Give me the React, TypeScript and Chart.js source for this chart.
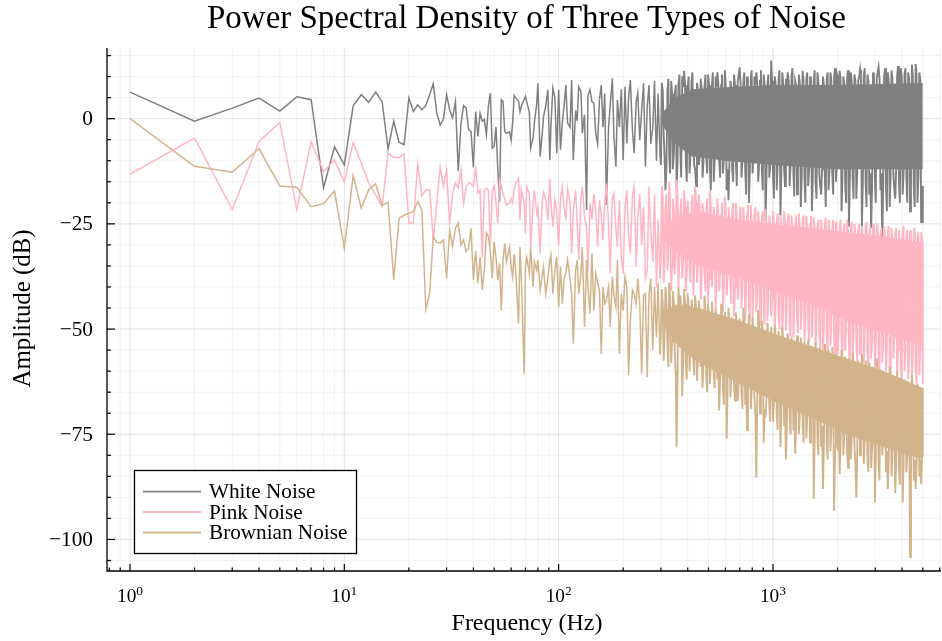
import React, { useEffect, useRef } from "react";
import { Chart, registerables } from "chart.js";

Chart.register(...registerables);

const W = 942;
const H = 641;
const FONT = "'Liberation Serif', 'DejaVu Serif', serif";

const TITLE = "Power Spectral Density of Three Types of Noise";
const X_LABEL = "Frequency (Hz)";
const Y_LABEL = "Amplitude (dB)";
const SERIES_NAMES = ["White Noise", "Pink Noise", "Brownian Noise"];
const SERIES_COLORS = ["#808080", "#FFB6C1", "#D2B48C"];

const X_MIN = 0.781;
const X_MAX = 6080;
const Y_MIN = -107.5;
const Y_MAX = 16.8;

const Y_MAJOR_TICKS = [-100, -75, -50, -25, 0];
const Y_TICK_LABELS = ["\u2212100", "\u221275", "\u221250", "\u221225", "0"];
const X_MAJOR_TICKS = [1, 10, 100, 1000];
const X_TICK_EXPONENTS = ["0", "1", "2", "3"];

// every bin from 1 to 50 Hz
const lowFreqs = Array.from({ length: 50 }, (_, i) => i + 1);
// bins sampled on a 2 % grid from 51 to 297 Hz
const midFreqs = Array.from({ length: 90 }, (_, i) => Math.round(50 * Math.pow(1.02, i + 1)));
// bins sampled on a 1 % grid from 300 to 5000 Hz
const denseFreqs = Array.from({ length: 284 }, (_, i) =>
  Math.min(5000, Math.round(297 * Math.pow(1.01, i + 1)))
);

const whiteLow = [
  6.3, -0.6, 2.5, 4.9, 1.8, 5.2, 4.5, -16.4, -6.7, -11.0,
  3.1, 5.7, 3.9, 6.3, 4.1, -7.2, -0.6, -5.6, -6.2, 4.9,
  1.7, 3.3, 2.1, 3.1, 5.7, 8.3, 1.3, -1.5, -0.1, 5.7,
  2.1, 0.2, 4.1, -12.5, -1.4, 3.1, 2.5, -2.6, -3.0, -11.6,
  1.7, -4.2, 1.3, -0.6, -0.2, -3.8, 2.9, 6.1, -7.0, -6.6,
];
const pinkLow = [
  -13.2, -4.6, -21.6, -5.4, -0.9, -21.6, -5.5, -12.6, -9.8, -15.1,
  -5.6, -10.6, -15.3, -18.1, -20.9, -8.2, -9.2, -9.2, -8.4, -24.8,
  -24.8, -10.8, -18.3, -16.9, -16.9, -28.8, -20.1, -11.5, -16.1, -12.1,
  -25.1, -17.7, -15.3, -16.4, -12.1, -20.1, -16.1, -15.3, -15.5, -16.1,
  -11.4, -17.7, -17.0, -33.0, -16.9, -16.5, -17.0, -30.0, -17.3, -16.0,
];
const brownLow = [
  0.0, -11.3, -12.7, -7.1, -16.0, -16.3, -20.9, -20.2, -17.2, -30.8,
  -13.5, -21.3, -16.9, -15.5, -20.6, -19.9, -38.3, -23.7, -22.9, -22.5,
  -22.1, -19.7, -21.7, -45.3, -41.5, -28.0, -29.4, -29.6, -28.8, -37.9,
  -26.4, -30.4, -26.0, -24.8, -30.0, -28.8, -31.6, -30.8, -26.0, -38.3,
  -31.4, -39.1, -32.8, -40.7, -35.9, -27.1, -28.0, -31.6, -37.9, -29.2,
];

const whiteMid = [
  -2, -12, -19.7, 4.5, 4.1, -3, -3.5, -3.1, -5.1, -1,
  5.5, 5.0, 4.2, 1.7, 3.0, 4.6, 5.3, 4.0, 1.5, -7.0,
  -4.5, -1, 3.5, 8.4, -9.0, -3, 0.5, 2.9, 6.9, -9.8,
  -2, 7.3, 5, -8.2, 6.9, -7.4, -1, 3, 8.0, -1,
  -2, 9.2, -9.8, 2, -0.5, 7.6, 6.5, -3.5, 1, -21.7,
  5.5, 6.9, 4, 3.7, -3.5, -6, 4.5, 8.0, -2, 6,
  -20.5, -1.9, 3, 9.6, -4, -11.4, 4.5, -2, 7, -9.8,
  7.6, -5.9, 5, 9.2, -3, -8.2, 4, 6.1, -5.1, 2,
  8.4, -11.4, 3, 8, -6, -2, 9, -10, 6, -8,
];
const pinkMid = [
  -20, -24.9, -14.6, -16, -17.8, -19, -20.5, -20.1, -19, -20,
  -17, -15.5, -14.2, -24.1, -17, -20, -27.3, -16.2, -17.8, -30.5,
  -20, -17, -22.5, -21, -32.1, -19, -17.5, -19.3, -24.1, -14.2,
  -20, -25.7, -19.3, -22, -30.1, -19, -16.2, -21, -24.1, -16.6,
  -20, -32.1, -22, -17, -25, -33.6, -19, -16.2, -23.3, -26,
  -36.4, -20.1, -24, -17.8, -22, -30.5, -19.3, -23, -28.9, -20,
  -15.4, -25, -36.8, -19, -17.8, -26, -30.5, -19.3, -33, -36.8,
  -21, -17, -28, -32.1, -18, -16.2, -35.2, -24, -17.8, -30,
  -20.9, -38, -36, -16.2, -27, -34, -18, -40, -24, -38,
];
const brownMid = [
  -33, -38.4, -34.4, -45.6, -33.6, -29.7, -34, -30.5, -35, -37.6,
  -32.1, -36, -48.7, -30.5, -38, -60.6, -35.2, -33, -36.8, -30.5,
  -40, -34, -36, -33.6, -40.8, -37, -35.2, -41.6, -38, -33.6,
  -32.4, -41.6, -36, -32.8, -44.8, -35.2, -44, -38, -36.8, -33.6,
  -38, -41.6, -53.5, -36, -33.6, -41.6, -37, -30.5, -49.5, -33.6,
  -40, -46.3, -32, -45.6, -36.8, -39, -40.8, -55.9, -40, -44,
  -43.2, -40, -49.5, -37.6, -42, -44.8, -33.6, -55.9, -41.6, -45.6,
  -37.6, -40, -61, -47.9, -40.8, -41.6, -44, -38, -44, -60.6,
  -42, -41.6, -61.4, -41.6, -38, -55, -40, -52, -39, -56,
];

const whiteDense = [
  -11, 8.5, 6.5, -4, -9, -17, -12, 7, 9.5, -9, -13, 9, 6, -12, -8, 5.5, 8, -16.3, -10, 8,
  10.5, -8, -14, 10, 7.5, 11.4, 8, -10, -15, 7, 10, -13, -9, 9, 11, -6, -11, -12, -16, 8.5,
  6.5, -11, -8.5, 9.5, 7, -14, -10, 7.5, 10.5, -9, -13, 10.5, 8, -12, -17, 8, 11, -15, -10, 10,
  7.5, 11, 8.5, -10, -14, 8, 10.5, -13, -9.5, 11.5, 8, -17, -12, -19.4, -11, 9, 7.5, -12, -15, 10.5,
  8, -11, -16, 9, 10.5, 12.2, 8.5, -14, -10, 8.5, 11, -12, -18, 10, 7.5, -20, -12, 9.5, 11.5, -13,
  -10, 10, 8, 11, 9, -15, -11, 9, 11.5, -12, -17, 10.5, 8, -24.2, -13, 8, 10.5, -14, -11, 13.8,
  9, -13, -19, 10, 8, -17, -11, 9, 11.5, -23, -13, 11, 8.5, -12, -16, 9.5, 8, 11, 9, -16,
  -11, 10, 12, -13, -18.5, 9, 8, -18, -12, 10.5, 8.5, -21, -14, 11.4, 9, -14, -20, 9.5, 11, -16,
  -12, 10, 8.5, -22, -14, 9, 11.5, -15, -19, 11, 9, -13, -16, -18, -12, 10, 8, -14, -21, 9.5,
  11, -17, -12, 11, 9, -13, -18, 10, 12, -15, -11, 9.5, 8.5, 11.4, 9.5, -22, -14, 10, 8.5, -16,
  -20, 9.5, 11.5, -25.6, -14, 11, 9, -14, -19, 10.5, 9, -19, -13, 9, 10, 11.7, 9.5, -26, -15, 10,
  12, -15, -21, 10.5, 9, -18, -13, -26, -16, 11, 9, -14, -20, 9.5, 11, 12.3, 9.5, -17, -13, -29.5,
  -15, 10, 12, -16, -22, 11, 9, -21, -14, 11.5, 9.5, -13, -17, -19, -12, 10, 12.5, -15, -20, 12,
  10, -18, -13, 10.5, 12, -14, -20, 11, 9.5, -22, -15, 12.8, 10, -16, -21, 13, 10.5, -20, -14, 11,
  9.5, -24.8, -16, -24.8,
];
const pinkDense = [
  -33, -16, -19, -39, -34, -21, -18, -36, -31, -15, -20, -41, -35, -19, -22, -37, -32, -14.5, -18, -40,
  -34, -22, -19, -38, -33, -17, -21, -41, -36, -19.5, -23, -35, -39, -21, -18, -42, -36, -16, -20, -39,
  -34, -18, -22, -43, -37, -20, -23, -37, -41, -22, -19, -44, -38, -17, -21, -40, -35, -21, -24, -45,
  -39, -19, -23, -41, -36, -23, -20, -46, -40, -18.5, -22, -42, -37, -21, -24, -39, -44, -22, -20, -47,
  -40, -20, -24, -43, -38, -23.5, -21, -45, -40, -21, -25, -48, -41, -22.5, -20.5, -44, -48, -20.5, -24, -47,
  -41, -23, -21, -46, -42, -22, -25, -49, -43, -24, -22, -45, -49, -21.5, -25, -48, -42, -23, -26, -47,
  -43, -22, -25, -50, -44, -24.5, -22.5, -46, -50, -23, -26, -51, -45, -22, -25, -50.4, -44, -24, -22.5, -48,
  -52, -23, -26, -52, -46, -25, -23, -47, -51, -22.5, -26, -50, -45, -24.5, -23, -53, -47, -23, -26.5, -49,
  -53, -25, -23, -52, -46, -23.5, -27, -54, -48, -26, -24, -50, -55, -24, -27, -55, -49, -25, -23.5, -51,
  -56, -24, -27, -54, -48, -26, -24, -52, -57, -24.5, -27.5, -56, -50, -25.5, -24, -53, -58, -27, -25, -55.1,
  -49, -24, -27.5, -55, -59, -26, -24.5, -57, -51, -25, -28, -53, -58, -27, -25, -56, -51, -25.5, -28.5, -58,
  -52, -26, -24.5, -55, -60, -27.5, -25.5, -57, -52, -25, -28.5, -59, -53, -26.5, -25, -56, -61, -28, -26, -58,
  -53, -25.5, -29, -60, -54, -27, -25.5, -59.1, -62, -26, -29, -57, -52, -28, -26, -61, -55, -26.5, -29.5, -58,
  -62.5, -27, -25.5, -60, -55, -28, -26.5, -62, -56, -26.5, -29.5, -61.8, -56, -27.5, -26, -59, -63, -28.5, -27, -61,
  -55, -27, -29, -63,
];
const brownDense = [
  -51, -40.5, -44, -57.5, -52, -40, -43, -54, -59, -39, -42.5, -58, -53, -41, -44, -55, -61, -78.1, -60, -40,
  -44, -42, -45.5, -66, -58, -40.5, -44, -58, -62, -41.5, -45, -60, -55, -43, -46, -57, -61, -42, -45, -62.3,
  -57, -43.2, -46, -59, -55, -64, -58, -42, -45.5, -61, -65, -44, -47, -63, -58, -43.5, -46.5, -60, -64, -45,
  -48, -62, -57, -69.4, -61, -44, -47.5, -64, -68, -46, -49, -76, -64, -45, -48.5, -66.2, -61, -47.2, -50, -63,
  -67, -46, -49.5, -67, -62, -47.5, -50.5, -65, -69, -45, -48.5, -68, -63, -74, -66, -46.5, -50, -69, -64, -47,
  -50.5, -66, -71, -85.3, -68, -45.5, -49, -70, -65, -48, -51, -77, -69, -71, -66, -48.5, -52, -68, -72, -49.6,
  -53, -72, -67, -49, -52.5, -70, -74, -50.5, -54, -78, -70, -49.6, -53, -73, -68, -81, -72, -51, -54.5, -71,
  -75, -52, -55, -74, -69, -79.6, -72, -51.5, -55, -75, -70, -52, -55.5, -73, -77, -53, -56, -76, -71, -52.5,
  -56, -77, -72, -54, -57, -90.4, -76, -53, -56.5, -75.8, -80, -54.5, -58, -78, -73, -88, -77, -53.5, -57, -77,
  -81, -55, -58, -79, -74, -54.3, -57.5, -93.2, -78, -56, -59, -78.9, -74, -84.5, -77, -55, -58.5, -80, -75, -56.5,
  -60, -79, -83, -57, -60, -81, -76, -55.5, -59, -78, -82, -90, -79, -57.5, -61, -80, -75, -56, -59.5, -82,
  -77, -57.5, -61, -80.5, -84, -58, -61.5, -83, -78, -59, -62, -91.2, -80, -57, -60.5, -82, -86, -59.5, -62.5, -80,
  -76, -60, -63, -84, -79, -88, -81, -59, -62.5, -85, -80, -61, -64, -89, -82, -60, -63.5, -83, -87, -61.5,
  -64.5, -91.2, -82, -62, -65, -84, -80, -62.5, -66, -104.2, -84, -61, -64.5, -86, -81, -88, -83, -63, -66, -85,
  -81, -86.9, -80, -64,
];

// solid core of the dense band, just inside the traces' usual extent
const whiteCoreFreqs = [300, 350, 420, 600, 1000, 2000, 5000];
const whiteCoreUpper = [1, 5, 7, 7.5, 8, 8, 8.5];
const whiteCoreLower = [-1, -6, -9, -10, -11, -12, -12];
const pinkCoreFreqs = [300, 360, 450, 700, 1000, 1500, 2200, 3300, 5000];
const pinkCoreUpper = [-26, -23, -22, -24, -25, -26, -27, -28, -29.5];
const pinkCoreLower = [-28, -32, -35, -38, -41, -44, -48, -51, -54];
const brownCoreFreqs = [300, 360, 450, 700, 1000, 1500, 2200, 3300, 5000];
const brownCoreUpper = [-46, -44, -45, -48, -51, -54, -57, -60, -64];
const brownCoreLower = [-48, -54, -58, -63, -67, -71, -75, -78, -81];

const pts = (fs: number[], vs: number[]) => fs.map((f, i) => ({ x: f, y: vs[i] }));

function fitSize(ctx: CanvasRenderingContext2D, text: string, target: number) {
  ctx.font = `100px ${FONT}`;
  return (100 * target) / ctx.measureText(text).width;
}

const juliaPlugin = {
  id: "juliaFrame",
  beforeDraw(chart: any) {
    const ctx = chart.ctx;
    ctx.save();
    ctx.fillStyle = "#ffffff";
    ctx.fillRect(0, 0, chart.width, chart.height);
    ctx.restore();
  },
  beforeDatasetsDraw(chart: any) {
    const ctx: CanvasRenderingContext2D = chart.ctx;
    const a = chart.chartArea;
    const xs = chart.scales.x;
    const ys = chart.scales.y;
    ctx.save();
    ctx.lineWidth = 1;
    ctx.strokeStyle = "rgba(0,0,0,0.05)";
    for (let d = -1; d <= 3; d++) {
      for (let k = 2; k <= 9; k++) {
        const v = k * Math.pow(10, d);
        if (v < X_MIN || v > X_MAX) continue;
        const px = xs.getPixelForValue(v);
        ctx.beginPath();
        ctx.moveTo(px, a.top);
        ctx.lineTo(px, a.bottom);
        ctx.stroke();
      }
    }
    for (let v = -105; v <= 15; v += 5) {
      if (v % 25 === 0) continue;
      const py = ys.getPixelForValue(v);
      ctx.beginPath();
      ctx.moveTo(a.left, py);
      ctx.lineTo(a.right, py);
      ctx.stroke();
    }
    ctx.strokeStyle = "rgba(0,0,0,0.11)";
    X_MAJOR_TICKS.forEach((v) => {
      const px = xs.getPixelForValue(v);
      ctx.beginPath();
      ctx.moveTo(px, a.top);
      ctx.lineTo(px, a.bottom);
      ctx.stroke();
    });
    Y_MAJOR_TICKS.forEach((v) => {
      const py = ys.getPixelForValue(v);
      ctx.beginPath();
      ctx.moveTo(a.left, py);
      ctx.lineTo(a.right, py);
      ctx.stroke();
    });
    ctx.restore();
  },
  afterDatasetsDraw(chart: any) {
    const ctx: CanvasRenderingContext2D = chart.ctx;
    const a = chart.chartArea;
    const xs = chart.scales.x;
    const ys = chart.scales.y;
    ctx.save();
    ctx.strokeStyle = "#000";
    ctx.lineWidth = 1.3;
    ctx.beginPath();
    ctx.moveTo(a.left, a.top);
    ctx.lineTo(a.left, a.bottom);
    ctx.lineTo(a.right, a.bottom);
    ctx.stroke();
    ctx.lineWidth = 1.2;
    for (let v = -105; v <= 15; v += 5) {
      const py = ys.getPixelForValue(v);
      const len = v % 25 === 0 ? 8 : 4;
      ctx.beginPath();
      ctx.moveTo(a.left, py);
      ctx.lineTo(a.left + len, py);
      ctx.stroke();
    }
    for (let d = -1; d <= 3; d++) {
      for (let k = 1; k <= 9; k++) {
        const v = k * Math.pow(10, d);
        if (v < X_MIN || v > X_MAX) continue;
        const px = xs.getPixelForValue(v);
        const len = k === 1 ? 7 : 3.5;
        ctx.beginPath();
        ctx.moveTo(px, a.bottom);
        ctx.lineTo(px, a.bottom - len);
        ctx.stroke();
      }
    }

    ctx.fillStyle = "#000";
    const tickSize = fitSize(ctx, "\u2212100", 44);
    ctx.font = `${tickSize}px ${FONT}`;
    ctx.textAlign = "right";
    ctx.textBaseline = "middle";
    Y_MAJOR_TICKS.forEach((v, i) => {
      ctx.fillText(Y_TICK_LABELS[i], 93, ys.getPixelForValue(v) + 1);
    });
    const baseSize = fitSize(ctx, "10", 19.3);
    const expSize = baseSize * 0.7;
    ctx.textAlign = "left";
    ctx.textBaseline = "alphabetic";
    X_MAJOR_TICKS.forEach((v, i) => {
      const px = xs.getPixelForValue(v);
      ctx.font = `${baseSize}px ${FONT}`;
      const w1 = ctx.measureText("10").width;
      ctx.font = `${expSize}px ${FONT}`;
      const w2 = ctx.measureText(X_TICK_EXPONENTS[i]).width;
      const start = px - (w1 + w2) / 2;
      ctx.font = `${baseSize}px ${FONT}`;
      ctx.fillText("10", start, 602);
      ctx.font = `${expSize}px ${FONT}`;
      ctx.fillText(X_TICK_EXPONENTS[i], start + w1, 595);
    });

    const xlSize = fitSize(ctx, X_LABEL, 151);
    ctx.font = `${xlSize}px ${FONT}`;
    ctx.textAlign = "center";
    ctx.fillText(X_LABEL, 527, 630);
    const ylSize = fitSize(ctx, Y_LABEL, 158);
    ctx.save();
    ctx.translate(30, 308.5);
    ctx.rotate(-Math.PI / 2);
    ctx.font = `${ylSize}px ${FONT}`;
    ctx.textAlign = "center";
    ctx.fillText(Y_LABEL, 0, 0);
    ctx.restore();

    const tSize = fitSize(ctx, TITLE, 639);
    ctx.font = `${tSize}px ${FONT}`;
    ctx.textAlign = "center";
    ctx.fillText(TITLE, 526.5, 28);

    ctx.fillStyle = "#fff";
    ctx.fillRect(134.5, 470.5, 222, 83);
    ctx.strokeStyle = "#000";
    ctx.lineWidth = 1.3;
    ctx.strokeRect(134.5, 470.5, 222, 83);
    const lgSize = fitSize(ctx, "Brownian Noise", 138.4);
    const rows = [491.7, 512, 532.5];
    SERIES_NAMES.forEach((name, i) => {
      ctx.strokeStyle = SERIES_COLORS[i];
      ctx.lineWidth = 1.8;
      ctx.beginPath();
      ctx.moveTo(143, rows[i]);
      ctx.lineTo(201, rows[i]);
      ctx.stroke();
      ctx.fillStyle = "#000";
      ctx.font = `${lgSize}px ${FONT}`;
      ctx.textAlign = "left";
      ctx.textBaseline = "middle";
      ctx.fillText(name, 209, rows[i] + 1);
    });
    ctx.restore();
  },
};

export default function App() {
  const ref = useRef<HTMLCanvasElement | null>(null);
  useEffect(() => {
    if (!ref.current) return;
    const lineDs = (label: string, color: string, data: any[], order: number) => ({
      label,
      data,
      borderColor: color,
      backgroundColor: color,
      borderWidth: 1.5,
      segment: {
        borderWidth: (c: any) => (c.p0.parsed.x >= 297 ? 1.9 : 1.5),
      },
      pointRadius: 0,
      pointHoverRadius: 0,
      tension: 0,
      fill: false,
      order,
    });
    const coreDs = (label: string, color: string, data: any[], order: number, fill: any) => ({
      label,
      data,
      borderColor: "rgba(0,0,0,0)",
      backgroundColor: color,
      borderWidth: 1,
      pointRadius: 0,
      pointHoverRadius: 0,
      tension: 0,
      fill,
      order,
    });
    const allFreqs = [...lowFreqs, ...midFreqs, ...denseFreqs];
    const chart = new Chart(ref.current, {
      type: "line",
      data: {
        datasets: [
          coreDs("whiteCoreU", SERIES_COLORS[0], pts(whiteCoreFreqs, whiteCoreUpper), 6, "+1"),
          coreDs("whiteCoreL", SERIES_COLORS[0], pts(whiteCoreFreqs, whiteCoreLower), 6, false),
          lineDs(SERIES_NAMES[0], SERIES_COLORS[0], pts(allFreqs, [...whiteLow, ...whiteMid, ...whiteDense]), 5),
          coreDs("pinkCoreU", SERIES_COLORS[1], pts(pinkCoreFreqs, pinkCoreUpper), 4, "+1"),
          coreDs("pinkCoreL", SERIES_COLORS[1], pts(pinkCoreFreqs, pinkCoreLower), 4, false),
          lineDs(SERIES_NAMES[1], SERIES_COLORS[1], pts(allFreqs, [...pinkLow, ...pinkMid, ...pinkDense]), 3),
          coreDs("brownCoreU", SERIES_COLORS[2], pts(brownCoreFreqs, brownCoreUpper), 2, "+1"),
          coreDs("brownCoreL", SERIES_COLORS[2], pts(brownCoreFreqs, brownCoreLower), 2, false),
          lineDs(SERIES_NAMES[2], SERIES_COLORS[2], pts(allFreqs, [...brownLow, ...brownMid, ...brownDense]), 1),
        ],
      },
      options: {
        animation: false,
        responsive: false,
        devicePixelRatio: 1,
        events: [],
        layout: { padding: { left: 107, right: 1, top: 48, bottom: 70 } },
        plugins: {
          legend: { display: false },
          title: { display: false },
          tooltip: { enabled: false },
        },
        scales: {
          x: { type: "logarithmic", min: X_MIN, max: X_MAX, bounds: "data", display: false },
          y: { type: "linear", min: Y_MIN, max: Y_MAX, bounds: "data", display: false },
        },
      },
      plugins: [juliaPlugin],
    } as any);
    return () => chart.destroy();
  }, []);
  return (
    <div style={{ position: "absolute", left: 0, top: 0, width: W, height: H, background: "#fff" }}>
      <canvas ref={ref} width={W} height={H} style={{ display: "block", width: W, height: H }} />
    </div>
  );
}
